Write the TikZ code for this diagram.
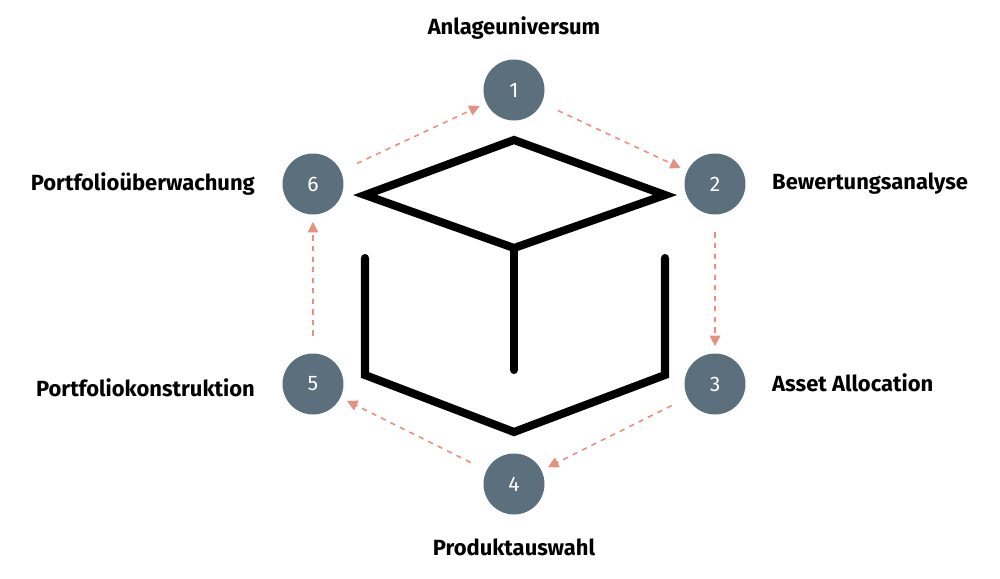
\documentclass[tikz,border=0pt]{standalone}
\usepackage{fontspec}
\setmainfont{Fira Sans}
\usepackage{xcolor}
\usetikzlibrary{arrows.meta}
\definecolor{stepgray}{HTML}{5B6F7D}
\definecolor{flowred}{HTML}{E6917F}

\begin{document}
\begin{tikzpicture}[
        x=0.02cm, y=-0.02cm,
        stepnode/.style={circle, fill=stepgray, minimum size=1.22cm, inner sep=0pt, text=white, font=\fontsize{12}{14}\selectfont},
        steplabel/.style={font=\fontsize{12.5}{15}\selectfont\bfseries, text=black},
        flow/.style={-{Triangle[length=6pt,width=6pt]}, dashed, line width=0.9pt, color=flowred, shorten <=10pt, shorten >=4pt},
        cube/.style={line width=4.6pt, line cap=round, line join=miter}
    ]
        \useasboundingbox (0,0) rectangle (1000,578);

        % ========== CUBE ==========
        \draw[cube] (514,140) -- (665,195) -- (514,248) -- (365,195) -- cycle;
        \draw[cube] (514,250) -- (514,370);
        \draw[cube] (365,258) -- (365,375) -- (514,432) -- (665,375) -- (665,258);

        % ========== STEPS ==========
        \node[stepnode] (s1) at (514,90) {1};
        \node[stepnode] (s2) at (715,184) {2};
        \node[stepnode] (s3) at (715,384) {3};
        \node[stepnode] (s4) at (514,484) {4};
        \node[stepnode] (s5) at (313,384) {5};
        \node[stepnode] (s6) at (313,184) {6};

        % ========== FLOW ==========
        \draw[flow] (s1) -- (s2);
        \draw[flow] (s2) -- (s3);
        \draw[flow] (s3) -- (s4);
        \draw[flow] (s4) -- (s5);
        \draw[flow] (s5) -- (s6);
        \draw[flow] (s6) -- (s1);

        % ========== LABELS ==========
        \node[steplabel] (l1) at (514,28) {Anlageuniversum};
        \node[steplabel, anchor=west] (l2) at (766,184) {Bewertungsanalyse};
        \node[steplabel, anchor=west] (l3) at (766,383) {Asset Allocation};
        \node[steplabel] (l4) at (514,547) {Produktauswahl};
        \node[steplabel, anchor=east] (l5) at (261,388) {Portfoliokonstruktion};
        \node[steplabel, anchor=east] (l6) at (261,184) {Portfolioüberwachung};
    \end{tikzpicture}
\end{document}
